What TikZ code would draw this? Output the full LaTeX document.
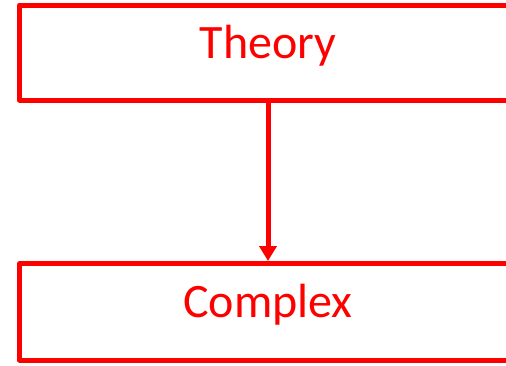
\documentclass[tikz,border=0pt]{standalone}
\usepackage{fontspec}
\setmainfont{Carlito}
\usetikzlibrary{positioning,arrows.meta}
\definecolor{boxred}{HTML}{FF0000}

\begin{document}
\begin{tikzpicture}[
  x=1pt, y=-1pt,
  % Node styles
  stage/.style={
    rectangle,
    draw=boxred,
    line width=5pt,
    line join=round,
    minimum width=497pt,
    inner sep=0pt,
    text height=31pt,
    text depth=19pt,
    text=boxred,
    font=\fontsize{48}{56}\selectfont,
  },
  % Edge style
  link/.style={
    draw=boxred,
    line width=5pt,
    -{Triangle[length=15pt,width=17pt]},
  },
]

  % Frame of the page
  \useasboundingbox (0,0) rectangle (506,365);
  \clip (0,0) rectangle (506,365);

  % Boxes
  \node[stage, minimum height=95pt] (theory) at (268,52.5) {Theory};
  \node[stage, minimum height=96.5pt] (complex) at (268,311.75) {Complex};

  % Connector
  \draw[link] (theory) -- (complex);

\end{tikzpicture}
\end{document}
